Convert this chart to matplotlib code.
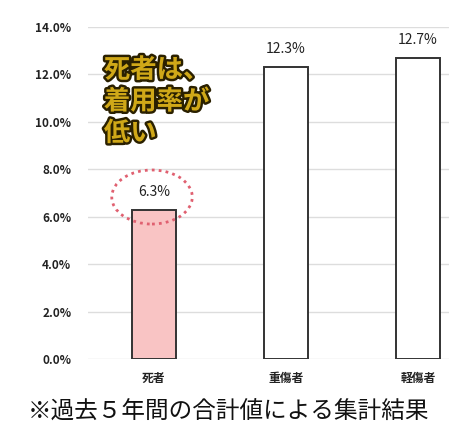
import matplotlib
import matplotlib.pyplot as plt
import matplotlib.patheffects as pe
from matplotlib.patches import Ellipse

matplotlib.use('Agg')
plt.rcParams['font.family'] = ['Noto Sans CJK JP', 'DejaVu Sans']

categories = ['死者', '重傷者', '軽傷者']
rates = [6.3, 12.3, 12.7]
labels = ['6.3%', '12.3%', '12.7%']
yticks = [0, 2, 4, 6, 8, 10, 12, 14]
ytick_labels = ['0.0%', '2.0%', '4.0%', '6.0%', '8.0%', '10.0%', '12.0%', '14.0%']
colors = ['#f9c4c4', 'white', 'white']
note = '※過去５年間の合計値による集計結果'
callout = '死者は、\n着用率が\n低い'

fig = plt.figure(figsize=(4.49, 4.32), dpi=100)
ax = fig.add_axes([0.196, 0.169, 0.804, 0.7685])

x = range(len(categories))
ax.bar(x, rates, width=0.33, color=colors, edgecolor='#333333', linewidth=1.4, zorder=3)

for i, (v, t) in enumerate(zip(rates, labels)):
    ax.annotate(t, (i, v), xytext=(0, 13), textcoords='offset points',
                ha='center', va='center', fontsize=10, color='#222222')

ax.set_xlim(-0.5, 2.235)
ax.set_ylim(0, 14)
ax.set_yticks(yticks)
ax.set_yticklabels(ytick_labels, fontsize=8.5, fontweight='bold', color='#222222')
ax.set_xticks(list(x))
ax.set_xticklabels(categories, fontsize=8.5, fontweight='bold', color='#222222')
ax.tick_params(axis='y', length=0, pad=12)
ax.tick_params(axis='x', length=0, pad=9)
ax.grid(axis='y', color='#dddddd', linewidth=1, zorder=0)
for s in ax.spines.values():
    s.set_visible(False)

# dotted circle around the 死者 value
ax.add_patch(Ellipse((-0.015, 6.83), 0.61, 2.28, fill=False, edgecolor='#e06070',
                     linestyle=(0, (1, 1.5)), linewidth=2, zorder=4))

ax.text(-0.38, 12.75, callout, fontsize=19, fontweight='bold', color='#d0a818',
        ha='left', va='top', linespacing=1.22, zorder=5,
        path_effects=[pe.withStroke(linewidth=3.5, foreground='#2a2000')])

fig.text(0.062, 0.046, note, fontsize=17, color='#111111', ha='left', va='center')

fig.savefig('out.png', dpi=100)
